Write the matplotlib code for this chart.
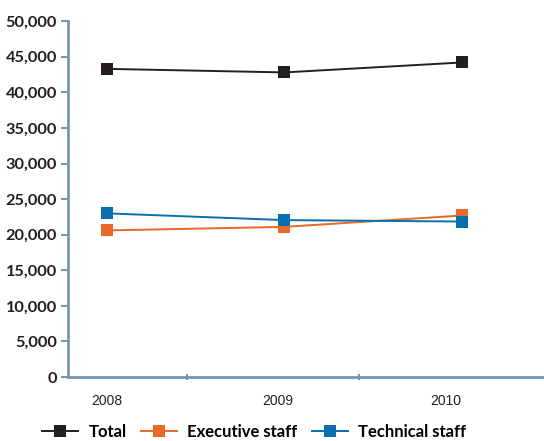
import matplotlib.pyplot as plt
from matplotlib.ticker import FuncFormatter, FixedLocator

years = ["2008", "2009", "2010"]
total = [43300, 42800, 44200]
executive = [20600, 21100, 22700]
technical = [23000, 22050, 21850]

series = [
    ("Total", total, "#231f20"),
    ("Executive staff", executive, "#e8692a"),
    ("Technical staff", technical, "#0a70ad"),
]

axis_col = "#7598b2"

fig = plt.figure(figsize=(5.44, 4.41), dpi=100)
ax = fig.add_axes([0.125, 0.145, 0.875, 0.807])

x = list(range(len(years)))
for name, vals, col in series:
    ax.plot(x, vals, color=col, lw=1.4, marker="s", markersize=8,
            markeredgewidth=0, label=name)

ax.set_ylim(0, 50000)
ax.set_xlim(-0.218, 2.46)
ax.set_yticks(range(0, 50001, 5000))
ax.yaxis.set_major_formatter(FuncFormatter(lambda v, p: f"{int(v):,}"))

# year labels sit slightly left of the points; tick marks fall between them
ax.xaxis.set_major_locator(FixedLocator([0, 0.96, 1.91]))
ax.set_xticklabels(years, fontsize=10, family="Liberation Sans", color="#222222")
ax.xaxis.set_minor_locator(FixedLocator([0.45, 1.42]))
ax.tick_params(axis="x", which="major", length=0, pad=12)
ax.tick_params(axis="x", which="minor", length=5, width=1.5, color=axis_col, direction="inout")
ax.tick_params(axis="y", length=5, width=1.5, color=axis_col, direction="out", pad=3)
for lab in ax.get_yticklabels():
    lab.set_fontfamily("Lato")
    lab.set_fontweight("bold")
    lab.set_fontsize(11.8)
    lab.set_color("#231f20")

for s in ["top", "right"]:
    ax.spines[s].set_visible(False)
for s in ["left", "bottom"]:
    ax.spines[s].set_color(axis_col)
    ax.spines[s].set_linewidth(2)

fig.legend(loc="center", bbox_to_anchor=(0.467, 0.02), ncol=3, frameon=False,
           handlelength=2.2, handletextpad=0.6, columnspacing=0.85,
           prop={"family": "Lato", "weight": "bold", "size": 12})

fig.savefig("out.png", dpi=100)
